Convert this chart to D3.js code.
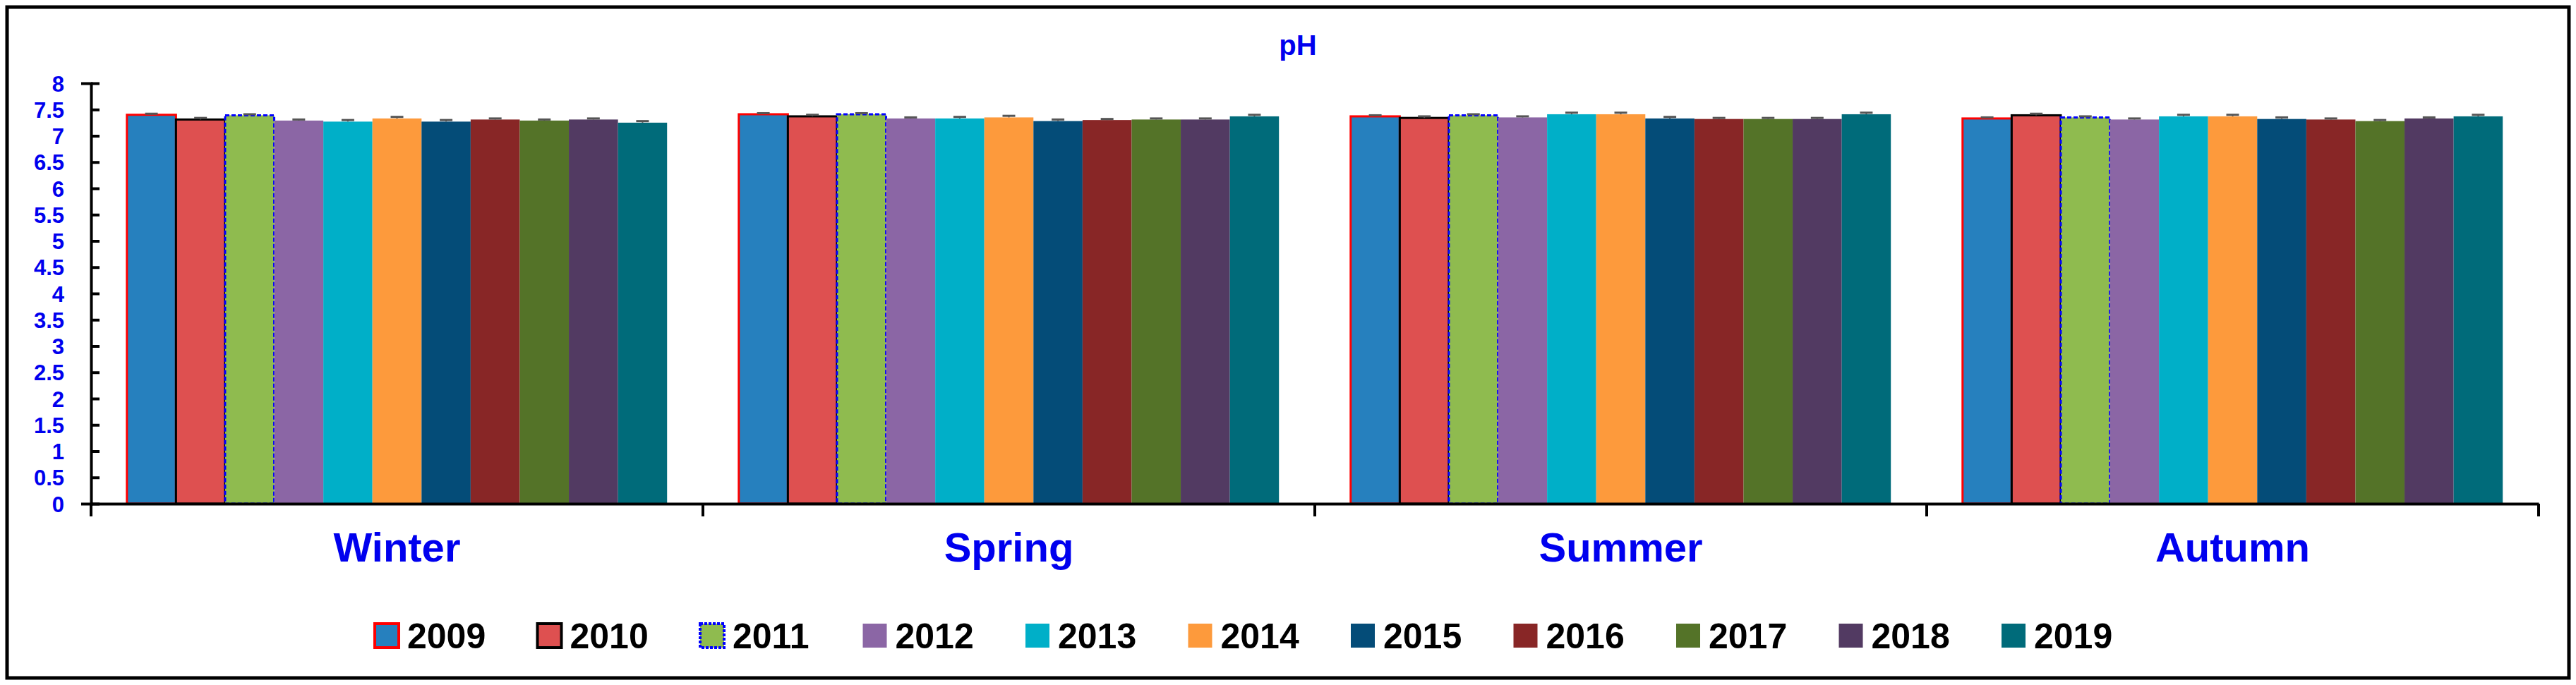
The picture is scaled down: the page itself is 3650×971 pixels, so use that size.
<!DOCTYPE html>
<html>
<head>
<meta charset="utf-8">
<script src="https://cdn.jsdelivr.net/npm/d3@7"></script>
<style>
body { margin: 0; background: #fff; }
text { font-family: "Liberation Sans", Arial, sans-serif; font-weight: bold; }
</style>
</head>
<body>
<svg id="chart" width="3650" height="971"></svg>
<script>
var seasons = ['Winter', 'Spring', 'Summer', 'Autumn'];
var years = ['2009', '2010', '2011', '2012', '2013', '2014', '2015', '2016', '2017', '2018', '2019'];
var colors = ['#2680be', '#de5050', '#8fbb4f', '#8b66a5', '#00afc8', '#fd9a3c', '#044c78', '#882626', '#547328', '#523a62', '#006b7a'];
var winter = [7.40, 7.31, 7.39, 7.29, 7.27, 7.33, 7.27, 7.31, 7.29, 7.31, 7.25];
var spring = [7.41, 7.37, 7.41, 7.33, 7.33, 7.35, 7.28, 7.30, 7.31, 7.31, 7.37];
var summer = [7.37, 7.34, 7.39, 7.35, 7.41, 7.41, 7.33, 7.32, 7.32, 7.32, 7.41];
var autumn = [7.33, 7.39, 7.35, 7.31, 7.37, 7.37, 7.32, 7.31, 7.28, 7.33, 7.37];
var errs = [0.02, 0.03, 0.02, 0.02, 0.03, 0.03, 0.03, 0.02, 0.02, 0.02, 0.03];
var yTicks = [0, 0.5, 1, 1.5, 2, 2.5, 3, 3.5, 4, 4.5, 5, 5.5, 6, 6.5, 7, 7.5, 8];

var values = [winter, spring, summer, autumn];
var strokes = ['#ff0000', '#000000', '#0000ff'];

var svg = d3.select('#chart');
svg.append('rect').attr('x', 10).attr('y', 10).attr('width', 3630).attr('height', 951)
	.attr('fill', 'none').attr('stroke', '#000').attr('stroke-width', 5);

var x0 = d3.scaleBand().domain(seasons).range([129, 3597]);
var x1 = d3.scaleBand().domain(years).range([0, x0.bandwidth()]).paddingOuter(0.73);
var y = d3.scaleLinear().domain([0, 8]).range([714, 118]);

svg.append('text').attr('x', 1839).attr('y', 78).attr('text-anchor', 'middle')
	.attr('fill', '#0000ee').attr('font-size', 40).text('pH');

var groups = svg.selectAll('g.season').data(seasons).enter().append('g')
	.attr('transform', function (d) { return 'translate(' + x0(d) + ',0)'; });

groups.each(function (s, si) {
	var g = d3.select(this);
	years.forEach(function (yr, i) {
		var v = values[si][i];
		var r = g.append('rect').attr('x', x1(yr)).attr('width', x1.bandwidth())
			.attr('y', y(v)).attr('height', y(0) - y(v)).attr('fill', colors[i]);
		if (i < 3) {
			r.attr('stroke', strokes[i]).attr('stroke-width', 3);
			if (i === 2) r.attr('stroke-dasharray', '6,3');
		}
		var cx = x1(yr) + x1.bandwidth() / 2;
		g.append('line').attr('x1', cx).attr('x2', cx).attr('y1', y(v + errs[i])).attr('y2', y(v))
			.attr('stroke', '#555').attr('stroke-width', 2);
		g.append('line').attr('x1', cx - 9).attr('x2', cx + 9).attr('y1', y(v + errs[i])).attr('y2', y(v + errs[i]))
			.attr('stroke', '#555').attr('stroke-width', 3);
	});
});

// y axis
var yAxis = svg.append('g').attr('transform', 'translate(129,0)')
	.call(d3.axisLeft(y).tickValues(yTicks).tickSize(14).tickFormat(d3.format('')));
yAxis.selectAll('.tick line').attr('x2', 12).attr('stroke', '#000').attr('stroke-width', 4);
yAxis.select('.domain').attr('stroke', '#000').attr('stroke-width', 4);
yAxis.selectAll('.tick text').attr('fill', '#0000ee').attr('font-size', 31).attr('x', -38).attr('dy', '0.36em');

// x axis
var xAxis = svg.append('g').attr('transform', 'translate(0,714)')
	.call(d3.axisBottom(x0).tickSize(0).tickFormat(''));
xAxis.select('.domain').attr('stroke', '#000').attr('stroke-width', 4);
xAxis.selectAll('line.sep').data(d3.range(seasons.length + 1)).enter().append('line')
	.attr('x1', function (d) { return 129 + d * x0.step(); })
	.attr('x2', function (d) { return 129 + d * x0.step(); })
	.attr('y1', 0).attr('y2', 18).attr('stroke', '#000').attr('stroke-width', 4);
svg.selectAll('text.cat').data(seasons).enter().append('text')
	.attr('x', function (d) { return x0(d) + x0.bandwidth() / 2; }).attr('y', 796)
	.attr('text-anchor', 'middle').attr('fill', '#0000ee').attr('font-size', 58)
	.text(function (d) { return d; });

// legend
var leg = svg.selectAll('g.leg').data(years).enter().append('g')
	.attr('transform', function (d, i) { return 'translate(' + (531 + i * 230.5) + ',901)'; });
leg.append('rect').attr('x', 0).attr('y', -17).attr('width', 34).attr('height', 34)
	.attr('fill', function (d, i) { return colors[i]; })
	.attr('stroke', function (d, i) { return i < 3 ? strokes[i] : 'none'; })
	.attr('stroke-width', 4)
	.attr('stroke-dasharray', function (d, i) { return i === 2 ? '4,2' : null; });
leg.append('text').attr('x', 46).attr('y', 18).attr('font-size', 50).attr('fill', '#000')
	.text(function (d) { return d; });
</script>
</body>
</html>
